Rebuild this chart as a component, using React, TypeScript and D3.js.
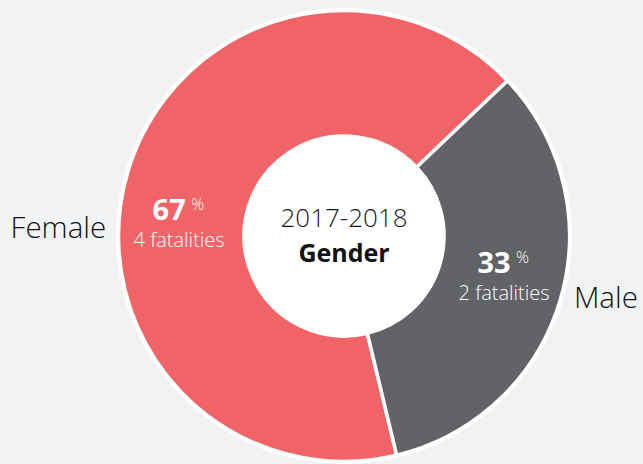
import React from "react";
import * as d3 from "d3";

const categories = ["Female", "Male"];
const fatalities = [4, 2];
const percents = [67, 33];
const colors = ["#f06468", "#626367"];
const centerYear = "2017-2018";
const centerTitle = "Gender";

const W = 643;
const H = 464;
const cx = 344;
const cy = 236;
const outerR = 225.5;
const innerR = 100;
const deg = Math.PI / 180;
const startA = 166.5 * deg;

// label placement in polar terms (angle in degrees clockwise from north, radius)
const innerLabelPolar = [
  { a: 272.3, r: 165 },
  { a: 106, r: 166.5 },
];
const outerLabelPolar = [
  { a: 272, r: 238, anchor: "end" },
  { a: 105, r: 238, anchor: "start" },
];

export default function App() {
  const pie = d3
    .pie<number>()
    .sort(null)
    .startAngle(startA)
    .endAngle(startA + 2 * Math.PI)
    .value((d) => d);
  const arcs = pie(fatalities);
  const arc = d3.arc<d3.PieArcDatum<number>>().innerRadius(innerR).outerRadius(outerR);
  const polar = (a: number, r: number) => [Math.sin(a * deg) * r, -Math.cos(a * deg) * r];
  const font = "'Open Sans', 'Noto Sans', sans-serif";

  return (
    <svg
      width={W}
      height={H}
      style={{ position: "absolute", left: 0, top: 0, background: "#f1f2f4" }}
      fontFamily={font}
    >
      <rect width={W} height={H} fill="#f1f2f4" />
      <g transform={`translate(${cx},${cy})`}>
        <circle r={outerR + 2.5} fill="#ffffff" />
        {arcs.map((d, i) => (
          <path key={i} d={arc(d) || ""} fill={colors[i]} stroke="#ffffff" strokeWidth={3.5} strokeLinejoin="round" />
        ))}
        <circle r={innerR} fill="#ffffff" />
        <text textAnchor="middle" y={-9} fontSize={26} fontWeight={300} fill="#1a1a1a">
          {centerYear}
        </text>
        <text textAnchor="middle" y={26} fontSize={25} fontWeight={700} fill="#111">
          {centerTitle}
        </text>
        {arcs.map((d, i) => {
          const [x, y] = polar(innerLabelPolar[i].a, innerLabelPolar[i].r);
          return (
            <g key={"l" + i} transform={`translate(${x},${y})`}>
              <text x={-10} y={-9} textAnchor="middle" fontSize={29} fontWeight={700} fill="#fff">
                {percents[i]}
              </text>
              <text x={12} y={-19} textAnchor="start" fontSize={16} fontWeight={300} fill="#fff">
                %
              </text>
              <text x={0} y={18} textAnchor="middle" fontSize={20} fontWeight={300} fill="#fff">
                {`${fatalities[i]} fatalities`}
              </text>
            </g>
          );
        })}
        {categories.map((c, i) => {
          const p = outerLabelPolar[i];
          const [x, y] = polar(p.a, p.r);
          return (
            <text key={"o" + i} x={x} y={y + 10} textAnchor={p.anchor as any} fontSize={29.5} fontWeight={300} fill="#111">
              {c}
            </text>
          );
        })}
      </g>
    </svg>
  );
}
